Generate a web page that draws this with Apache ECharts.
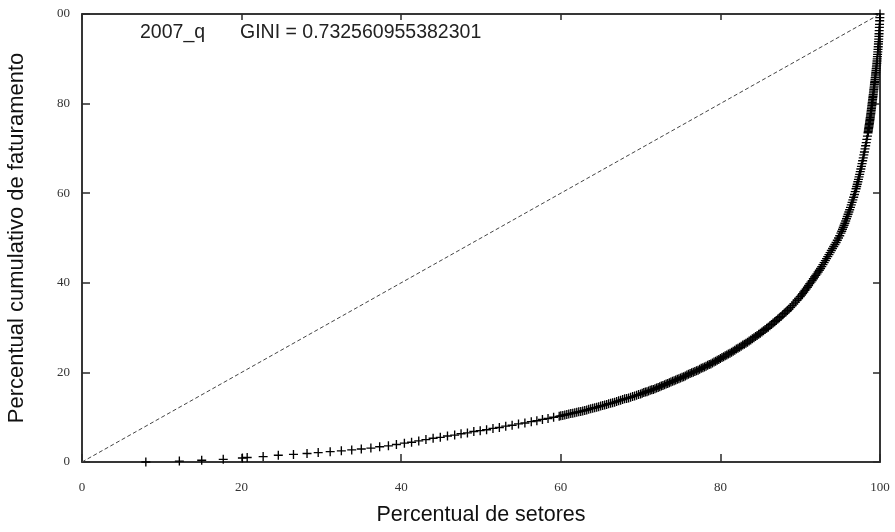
<!DOCTYPE html>
<html>
<head>
<meta charset="utf-8">
<script src="https://cdn.jsdelivr.net/npm/echarts@6/dist/echarts.min.js"></script>
<style>
html,body{margin:0;padding:0;background:#fff;}
#chart{width:895px;height:532px;}
</style>
</head>
<body>
<div id="chart"></div>
<script>
// Lorenz curve points (x: % of sectors, y: cumulative % of revenue)
const xPct = [
8.0,12.2,15.0,17.7,20.1,20.7,22.7,24.6,26.5,28.2,29.6,31.1,32.5,
33.8,35.0,36.2,37.3,38.4,39.4,40.4,41.3,42.2,43.1,44.0,44.9,45.8,46.7,47.5,48.3,49.1,49.9,
50.7,51.5,52.3,53.1,53.9,54.7,55.5,56.3,57.0,57.7,58.4,59.1,59.8,
60.0,60.25,60.5,60.75,61.0,61.25,61.5,61.75,62.0,62.25,62.5,62.75,63.0,63.25,63.5,63.75,64.0,64.25,64.5,64.75,
65.0,65.25,65.5,65.75,66.0,66.25,66.5,66.75,67.0,67.25,67.5,67.75,68.0,68.25,68.5,68.75,69.0,69.25,69.5,69.75,70.0,
70.2,70.4,70.6,70.8,71.0,71.2,71.4,71.6,71.8,72.0,72.2,72.4,72.6,72.8,73.0,73.2,73.4,73.6,73.8,74.0,
74.2,74.4,74.6,74.8,75.0,75.2,75.4,75.6,75.8,76.0,76.2,76.4,76.6,76.8,77.0,77.2,77.4,77.6,77.8,78.0,
78.2,78.4,78.6,78.8,79.0,79.2,79.4,79.6,79.8,80.0,
80.2,80.4,80.6,80.8,81.0,81.2,81.4,81.6,81.8,82.0,82.2,82.4,82.6,82.8,83.0,83.2,83.4,83.6,83.8,84.0,
84.2,84.4,84.6,84.8,85.0,85.2,85.4,85.6,85.8,86.0,86.2,86.4,86.6,86.8,87.0,87.2,87.4,87.6,87.8,88.0,
88.2,88.4,88.6,88.8,89.0,89.2,89.4,89.6,89.8,90.0,
90.15,90.3,90.45,90.6,90.75,90.9,91.05,91.2,91.35,91.5,91.65,91.8,91.95,92.1,92.25,92.4,92.55,92.7,92.85,93.0,
93.15,93.3,93.45,93.6,93.75,93.9,94.05,94.2,94.35,94.5,94.65,94.8,94.95,
95.1,95.2,95.3,95.4,95.5,95.6,95.7,95.8,95.9,96.0,96.1,96.2,96.3,96.4,96.5,96.6,96.7,96.8,96.9,97.0,
97.075,97.15,97.225,97.3,97.375,97.45,97.525,97.6,97.675,97.75,97.825,97.9,97.975,98.05,98.125,98.2,98.275,98.35,98.425,98.5,
98.525,98.55,98.575,98.6,98.625,98.65,98.675,98.7,98.725,98.75,98.775,98.8,98.825,98.85,98.875,98.9,98.925,98.95,98.975,99.0,
99.025,99.05,99.075,99.1,99.125,99.15,99.175,99.2,99.225,99.25,99.275,99.3,99.325,99.35,99.375,99.4,99.425,99.45,99.475,99.5,
99.525,99.55,99.575,99.6,99.625,99.65,99.675,99.7,99.725,99.75,99.775,99.8,99.82,99.84,99.86,99.88,99.9,99.92,99.94,99.96,99.98,100.0
];
const yPct = [
0.0,0.2,0.4,0.6,0.9,1.0,1.2,1.5,1.7,1.9,2.1,2.3,2.5,
2.7,2.9,3.1,3.4,3.6,3.9,4.2,4.4,4.7,5.0,5.3,5.5,5.8,6.0,6.3,6.5,6.8,7.0,
7.2,7.5,7.7,8.0,8.2,8.5,8.7,9.0,9.2,9.5,9.7,10.0,10.2,
10.3,10.4,10.5,10.6,10.7,10.8,10.9,11.0,11.1,11.2,11.3,11.4,11.5,11.6,11.75,11.9,12.0,12.1,12.2,12.35,
12.5,12.6,12.7,12.85,13.0,13.1,13.2,13.35,13.5,13.65,13.8,13.95,14.1,14.2,14.3,14.45,14.6,14.75,14.9,15.05,15.2,
15.35,15.5,15.6,15.7,15.85,16.0,16.1,16.2,16.35,16.5,16.65,16.8,16.95,17.1,17.25,17.4,17.55,17.7,17.85,18.0,
18.15,18.3,18.45,18.6,18.75,18.9,19.05,19.2,19.4,19.6,19.75,19.9,20.05,20.2,20.35,20.5,20.7,20.9,21.05,21.2,
21.4,21.6,21.75,21.9,22.1,22.3,22.5,22.7,22.9,23.1,
23.3,23.5,23.7,23.9,24.1,24.3,24.5,24.7,24.95,25.2,25.4,25.6,25.85,26.1,26.3,26.5,26.75,27.0,27.25,27.5,
27.75,28.0,28.25,28.5,28.75,29.0,29.3,29.6,29.85,30.1,30.4,30.7,31.0,31.3,31.6,31.9,32.2,32.5,32.85,33.2,
33.5,33.8,34.15,34.5,34.9,35.3,35.7,36.1,36.5,36.9,
37.25,37.6,37.95,38.3,38.65,39.0,39.4,39.8,40.15,40.5,40.9,41.3,41.65,42.0,42.4,42.8,43.2,43.6,44.05,44.5,
44.95,45.4,45.85,46.3,46.75,47.2,47.65,48.1,48.55,49.0,49.5,50.0,50.5,
51.1,51.5,51.95,52.4,52.85,53.3,53.8,54.3,54.8,55.3,55.8,56.3,56.85,57.4,57.95,58.5,59.1,59.7,60.35,61.0,
61.5,62.0,62.55,63.1,63.65,64.2,64.8,65.4,66.0,66.6,67.25,67.9,68.55,69.2,69.9,70.6,71.3,72.0,72.75,73.5,
73.8,74.1,74.4,74.7,75.0,75.3,75.6,75.9,76.2,76.5,76.85,77.2,77.5,77.8,78.15,78.5,78.85,79.2,79.55,79.9,
80.25,80.6,80.95,81.3,81.65,82.0,82.4,82.8,83.15,83.5,83.9,84.3,84.65,85.0,85.4,85.8,86.2,86.6,87.0,87.4,
87.8,88.2,88.6,89.0,89.5,90.0,90.5,91.0,91.55,92.1,92.7,93.3,93.85,94.4,95.0,95.6,96.3,97.0,97.7,98.5,99.2,100.0
];
const equalityX = [0, 100];
const equalityY = [0, 100];
const xTickLabels = ['0','20','40','60','80','100'];
const yTickLabels = ['0','20','40','60','80','00'];
const seriesTag = '2007_q';
const giniText = 'GINI = 0.732560955382301';
const xTitle = 'Percentual de setores';
const yTitle = 'Percentual cumulativo de faturamento';

const points = xPct.map((x, i) => [x, yPct[i]]);
const diag = equalityX.map((x, i) => [x, equalityY[i]]);

const chart = echarts.init(document.getElementById('chart'), null, {renderer: 'canvas'});
const axisCol = '#2a2a2a';
const tickLabelStyle = {fontFamily: 'Liberation Serif', fontSize: 13, color: '#333'};
const plus = 'path://M4.25,0H5.75V4.25H10V5.75H5.75V10H4.25V5.75H0V4.25H4.25Z';

chart.setOption({
  animation: false,
  backgroundColor: '#fff',
  grid: {left: 82, top: 14, width: 798, height: 448, containLabel: false, outerBoundsMode: 'none',
         show: true, borderColor: axisCol, borderWidth: 1.5, backgroundColor: 'transparent'},
  xAxis: [{
    type: 'value', min: 0, max: 100, interval: 20, position: 'bottom',
    name: xTitle, nameLocation: 'middle', nameGap: 42,
    nameTextStyle: {fontFamily: 'Liberation Sans', fontSize: 21.5, color: '#111'},
    axisLine: {show: true, onZero: false, lineStyle: {color: axisCol, width: 1.5}},
    axisTick: {show: true, inside: true, length: 8, lineStyle: {color: axisCol, width: 1.5}},
    axisLabel: Object.assign({margin: 19, formatter: (v) => xTickLabels[Math.round(v / 20)]}, tickLabelStyle),
    splitLine: {show: false}
  }, {
    type: 'value', min: 0, max: 100, interval: 20, position: 'top',
    axisLine: {show: true, onZero: false, lineStyle: {color: axisCol, width: 1.5}},
    axisTick: {show: true, inside: true, length: 6, lineStyle: {color: axisCol, width: 1.5}},
    axisLabel: {show: false}, splitLine: {show: false}
  }],
  yAxis: [{
    type: 'value', min: 0, max: 100, interval: 20, position: 'left',
    name: yTitle, nameLocation: 'middle', nameGap: 54,
    nameTextStyle: {fontFamily: 'Liberation Sans', fontSize: 22, color: '#111'},
    axisLine: {show: true, onZero: false, lineStyle: {color: axisCol, width: 1.5}},
    axisTick: {show: true, inside: true, length: 8, lineStyle: {color: axisCol, width: 1.5}},
    axisLabel: Object.assign({margin: 12, formatter: (v) => yTickLabels[Math.round(v / 20)]}, tickLabelStyle),
    splitLine: {show: false}
  }, {
    type: 'value', min: 0, max: 100, interval: 20, position: 'right',
    axisLine: {show: true, onZero: false, lineStyle: {color: axisCol, width: 1.5}},
    axisTick: {show: true, inside: true, length: 7, lineStyle: {color: axisCol, width: 1.5}},
    axisLabel: {show: false}, splitLine: {show: false}
  }],
  series: [{
    type: 'line', data: diag, xAxisIndex: 0, yAxisIndex: 0,
    symbol: 'none', silent: true,
    lineStyle: {color: '#444', width: 1, type: [4, 2.5]}
  }, {
    type: 'scatter', data: points, xAxisIndex: 0, yAxisIndex: 0,
    symbol: plus, symbolSize: 9, large: false,
    itemStyle: {color: '#000', opacity: 1}
  }],
  graphic: [{
    type: 'text', left: 140, top: 23,
    style: {text: seriesTag, fontFamily: 'Liberation Sans', fontSize: 19.5, fill: '#222'}
  }, {
    type: 'text', left: 240, top: 23,
    style: {text: giniText, fontFamily: 'Liberation Sans', fontSize: 19.5, fill: '#222'}
  }]
});
</script>
</body>
</html>
